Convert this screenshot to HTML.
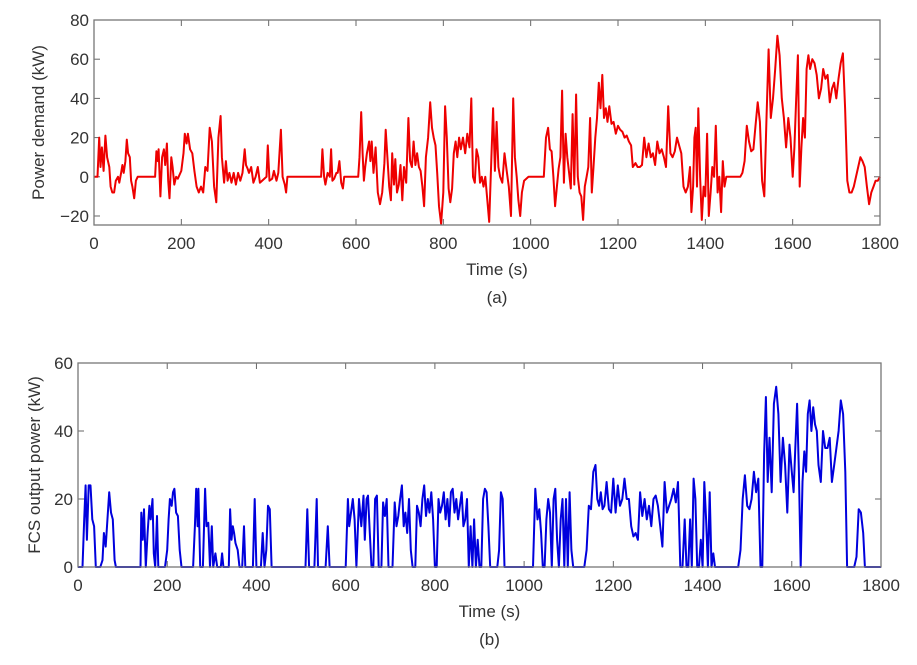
<!DOCTYPE html>
<html><head><meta charset="utf-8"><style>
body{margin:0;background:#fff;}
svg{display:block;font-family:"Liberation Sans Narrow","Liberation Sans",sans-serif;}
.tick{font-size:17px;fill:#333;}
.ylab{font-family:"Liberation Sans",sans-serif;font-size:17px;fill:#333;}
</style></head><body>
<svg id="chart" width="917" height="665" viewBox="0 0 917 665"></svg>
<script>
const timesA=[0,8,12,15,18,22,26,30,35,38,42,46,50,55,58,62,65,68,72,75,78,82,85,88,92,96,100,140,143,146,148,152,156,160,163,167,170,173,177,180,184,188,192,200,205,208,212,215,220,225,230,235,240,245,250,255,260,265,270,275,280,285,290,293,298,302,306,310,315,320,325,330,335,340,345,348,352,355,360,365,370,375,380,385,395,398,402,408,412,418,422,428,432,437,440,443,520,523,527,530,535,540,543,546,550,555,558,562,566,570,573,605,608,612,615,618,621,625,630,633,636,640,645,650,655,660,665,668,672,676,680,683,687,690,694,698,702,706,710,715,720,724,728,732,736,740,744,748,752,756,760,765,770,774,778,782,786,790,795,800,804,808,812,816,820,824,828,832,836,840,845,850,855,860,864,868,872,876,880,884,888,892,896,900,905,910,914,918,922,926,930,935,940,945,950,955,960,964,968,972,976,980,985,995,1030,1035,1040,1044,1048,1052,1056,1060,1064,1068,1072,1076,1080,1084,1088,1092,1096,1100,1104,1108,1112,1116,1120,1124,1128,1132,1136,1140,1144,1148,1152,1156,1160,1164,1168,1172,1176,1180,1185,1190,1195,1200,1205,1210,1215,1220,1225,1230,1234,1240,1245,1250,1255,1260,1265,1270,1275,1280,1285,1290,1295,1300,1305,1310,1315,1320,1325,1330,1335,1340,1345,1350,1355,1360,1365,1368,1372,1375,1378,1381,1384,1388,1392,1396,1400,1404,1408,1412,1416,1420,1424,1428,1432,1436,1440,1444,1448,1452,1480,1485,1490,1495,1500,1505,1510,1515,1520,1525,1530,1535,1540,1545,1550,1555,1560,1565,1570,1575,1580,1585,1590,1595,1600,1604,1608,1612,1616,1620,1624,1628,1632,1636,1640,1645,1650,1655,1660,1665,1670,1675,1680,1685,1690,1695,1700,1705,1710,1715,1720,1725,1730,1735,1740,1745,1750,1755,1760,1765,1770,1775,1780,1785,1790,1795,1800];
const powerDemand=[0,0,20,5,15,3,21,10,5,-5,-8,-8,-2,0,-3,2,6,2,8,19,12,10,-2,-5,-11,-2,0,0,13,8,14,-10,10,14,6,17,-2,-11,10,5,-4,0,-1,3,12,22,17,22,14,12,3,-5,-8,-5,-8,5,3,25,18,-5,-13,20,31,10,-3,8,-2,2,-3,2,-4,2,-2,2,14,6,4,2,5,-3,0,5,-3,-2,0,16,-2,-1,3,-2,2,24,0,-4,-8,0,0,14,0,-4,2,0,14,-2,-1,2,2,8,-3,-6,0,0,10,33,12,-2,5,12,18,8,18,2,15,-8,-14,-8,7,24,10,-5,-12,12,-4,9,-8,-4,6,-12,5,-3,30,8,5,18,6,12,5,3,-5,-15,10,20,38,25,20,16,2,-15,-24,-8,36,20,-6,-13,-6,12,18,10,20,14,20,12,22,15,40,0,-3,14,10,-3,0,-5,0,-10,-23,10,35,3,28,5,0,-3,12,3,-5,-20,40,10,0,-12,-20,-8,-2,0,0,20,25,14,13,0,-15,-5,4,10,44,-3,22,10,2,-6,32,-4,42,0,-8,-10,-22,-5,0,5,30,-8,5,20,30,48,35,52,30,35,28,36,27,28,22,26,24,23,20,21,18,16,5,7,5,5,6,20,10,17,10,12,6,18,12,14,10,5,36,12,10,13,20,16,12,-5,-8,-5,5,-18,-5,20,25,-5,35,0,-22,-5,-10,22,-20,-8,5,0,26,-8,0,-18,8,-5,0,0,0,2,8,26,18,13,14,26,38,28,-2,-10,30,65,30,40,55,72,62,40,30,15,30,20,0,15,40,62,-5,15,30,20,55,62,55,60,58,52,40,45,55,50,52,38,45,48,40,50,58,63,35,-2,-8,-8,-5,0,5,10,8,5,-5,-14,-8,-5,-2,-2,0];
const timesB=[0,10,14,17,20,24,28,32,36,40,50,55,58,62,65,70,74,78,82,85,140,142,145,148,152,156,160,163,167,170,173,177,180,195,200,203,206,210,213,216,220,224,228,232,258,262,265,268,270,274,280,285,288,292,296,300,303,308,312,320,323,326,338,341,344,347,350,353,358,362,368,372,375,392,396,400,410,414,418,422,426,430,434,510,514,518,530,535,538,555,560,564,600,605,608,612,616,620,624,630,635,640,643,647,650,654,658,662,666,670,674,680,684,688,692,696,700,705,710,714,718,722,726,730,734,738,742,746,750,756,760,764,768,772,776,780,784,788,792,796,800,804,808,812,816,820,824,828,832,836,840,844,848,852,856,860,864,868,872,876,880,884,888,892,896,900,904,908,912,916,920,924,940,944,948,952,956,1020,1025,1030,1034,1038,1042,1046,1050,1054,1058,1062,1066,1070,1074,1078,1082,1086,1090,1094,1098,1102,1106,1110,1135,1140,1145,1150,1155,1160,1164,1168,1172,1176,1180,1185,1190,1195,1200,1205,1210,1215,1220,1225,1230,1235,1240,1245,1250,1255,1260,1265,1270,1275,1280,1285,1290,1295,1300,1305,1310,1315,1320,1325,1330,1335,1340,1345,1350,1355,1360,1364,1368,1372,1376,1380,1384,1388,1392,1396,1400,1404,1408,1412,1416,1420,1424,1428,1480,1485,1490,1495,1500,1505,1510,1515,1520,1525,1530,1534,1538,1542,1546,1550,1555,1560,1565,1570,1575,1580,1585,1590,1595,1600,1604,1608,1612,1616,1620,1624,1628,1632,1636,1640,1644,1648,1652,1656,1660,1665,1670,1675,1680,1685,1690,1695,1700,1705,1710,1715,1720,1724,1740,1745,1750,1755,1760,1764,1800];
const fcsPower=[0,0,14,24,8,24,24,14,12,0,0,2,10,6,12,22,16,14,2,0,0,16,8,17,0,10,18,14,20,4,0,15,0,0,5,14,20,18,22,23,16,15,5,0,0,12,23,12,23,0,0,23,12,13,0,12,0,4,0,0,4,0,0,17,8,12,10,7,5,0,0,12,0,0,20,0,0,10,0,5,18,17,0,0,17,0,0,20,0,0,12,0,0,20,12,16,20,14,0,20,12,21,8,20,21,10,0,0,20,21,0,0,19,15,20,0,0,0,19,12,15,20,24,12,16,10,20,5,0,0,18,16,12,20,24,15,20,16,22,14,0,0,20,16,18,22,14,20,12,22,23,16,20,14,18,22,12,14,20,0,12,0,14,0,8,0,0,20,23,22,12,0,0,5,22,20,0,0,23,14,17,10,0,0,14,20,16,0,20,23,8,0,14,20,0,20,0,22,5,0,0,5,18,17,28,30,20,18,22,17,18,25,17,16,26,16,24,18,20,26,20,20,12,9,10,8,22,15,20,14,18,12,20,21,18,12,6,25,16,18,20,23,19,25,0,0,14,0,0,14,0,26,20,0,0,8,0,25,14,0,22,0,4,0,0,5,20,27,18,17,20,28,22,26,0,0,33,50,25,38,22,48,53,45,25,38,30,16,36,28,22,35,48,28,0,25,34,28,45,49,40,47,42,40,30,25,40,35,35,38,25,30,35,40,49,45,28,0,0,3,17,16,10,0,0];
const xTicks=[0,200,400,600,800,1000,1200,1400,1600,1800];
const yTicksA=[-20,0,20,40,60,80];
const yTicksB=[0,20,40,60];

const NS='http://www.w3.org/2000/svg';
const svg=document.getElementById('chart');
function mk(tag,attrs,parent){const e=document.createElementNS(NS,tag);for(const k in attrs)e.setAttribute(k,attrs[k]);(parent||svg).appendChild(e);return e;}

function panel(cfg){
  const g=mk('g',{});
  
  
  const xs=t=>cfg.L+(t-0)/1800*(cfg.R-cfg.L);
  const ys=v=>cfg.B-(v-cfg.ymin)/(cfg.ymax-cfg.ymin)*(cfg.B-cfg.T);
  // ticks
  xTicks.forEach(t=>{
    const x=xs(t);
    mk('line',{x1:x,x2:x,y1:cfg.B,y2:cfg.B-6,stroke:'#666','stroke-width':1},g);
    mk('line',{x1:x,x2:x,y1:cfg.T,y2:cfg.T+6,stroke:'#666','stroke-width':1},g);
    const tx=mk('text',{x:x,y:cfg.B+24,'text-anchor':'middle',class:'tick'},g);
    tx.textContent=t;
    
    
  });
  cfg.yt.forEach(v=>{
    const y=ys(v);
    mk('line',{x1:cfg.L,x2:cfg.L+6,y1:y,y2:y,stroke:'#666','stroke-width':1},g);
    mk('line',{x1:cfg.R,x2:cfg.R-6,y1:y,y2:y,stroke:'#666','stroke-width':1},g);
    const tx=mk('text',{x:cfg.L-5,y:y+6,'text-anchor':'end',class:'tick'},g);
    tx.textContent=(v<0?'\u2212'+(-v):v);
    
    
  });
  // line
  let d='';
  cfg.t.forEach((t,i)=>{d+=(i?'L':'M')+xs(t).toFixed(1)+' '+ys(cfg.v[i]).toFixed(1);});
  const p=mk('path',{d:d,fill:'none',stroke:cfg.color,'stroke-width':2,'stroke-linejoin':'round'},g);
  
  
  // frame
  const f=mk('rect',{x:cfg.L,y:cfg.T,width:cfg.R-cfg.L,height:cfg.B-cfg.T,fill:'none',stroke:'#777','stroke-width':1.3},g);
  
  
  const xl=mk('text',{x:(cfg.L+cfg.R)/2+10,y:cfg.B+50,'text-anchor':'middle',class:'tick'},g);
  xl.textContent='Time (s)';
  
  
  const yl=mk('text',{x:0,y:0,'text-anchor':'middle',class:'ylab',transform:'translate('+cfg.ylx+','+((cfg.T+cfg.B)/2)+') rotate(-90)'},g);
  yl.textContent=cfg.ylabel;
  
  
  const cap=mk('text',{x:(cfg.L+cfg.R)/2+10,y:cfg.B+78,'text-anchor':'middle',class:'tick'},g);
  cap.textContent=cfg.caption;
  
  
}
panel({name:'power-demand-panel',L:94,R:880,T:20,B:225,ymin:-24.6,ymax:80,yt:yTicksA,t:timesA,v:powerDemand,color:'#ee0000',ylabel:'Power demand (kW)',ylx:44,caption:'(a)'});
panel({name:'fcs-output-panel',L:78,R:881,T:363,B:567,ymin:0,ymax:60,yt:yTicksB,t:timesB,v:fcsPower,color:'#0000dd',ylabel:'FCS output power (kW)',ylx:40,caption:'(b)'});
</script>
</body></html>
